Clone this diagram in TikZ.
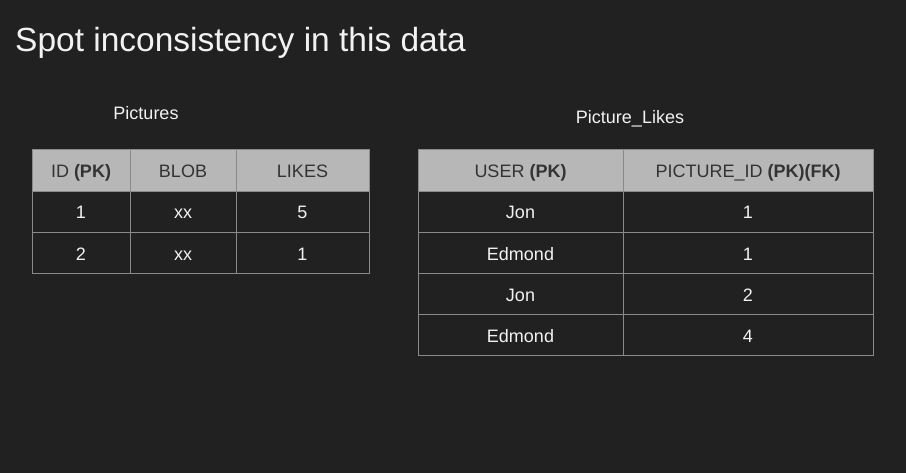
\documentclass[tikz,border=0pt]{standalone}
\usepackage{fontspec}
\setmainfont{Liberation Sans}
\usetikzlibrary{positioning}
\definecolor{slide}{HTML}{212121}
\definecolor{headfill}{HTML}{B7B7B7}
\definecolor{rule}{HTML}{8A8A8A}
\definecolor{headtext}{HTML}{333333}
\definecolor{celltext}{HTML}{F2F2F2}
\tikzstyle{cell}=[rectangle, draw=rule, line width=1pt, inner sep=0pt, outer sep=0pt,
        minimum height=41.2pt, text height=14.2pt, text depth=0pt,
        text=celltext, font=\fontsize{18}{20}\selectfont, anchor=north west]
\tikzstyle{head}=[cell, fill=headfill, text=headtext]
\tikzstyle{caption}=[text=celltext, font=\fontsize{18}{20}\selectfont]

\begin{document}
\begin{tikzpicture}[x=1pt, y=-1pt]
    \fill[slide] (0,0) rectangle (906,473);
    \useasboundingbox (0,0) rectangle (906,473);

    \node (Title) [anchor=base west, text=celltext, inner sep=0pt, font=\fontsize{33.5}{36}\selectfont] at (15,52)
        {Spot inconsistency in this data};

    % Pictures table
    \node (Pictures) [caption] at (146,113) {Pictures};

    \node (PicID) [head, minimum width=98pt] at (32,150) {ID \textbf{(PK)}};
    \node (PicBlob) [head, minimum width=106pt, right=0pt of PicID.north east, anchor=north west] {BLOB};
    \node (PicLikes) [head, minimum width=133pt, right=0pt of PicBlob.north east, anchor=north west] {LIKES};

    \node (PicID1) [cell, minimum width=98pt, below=0pt of PicID.south west, anchor=north west] {1};
    \node (PicBlob1) [cell, minimum width=106pt, below=0pt of PicBlob.south west, anchor=north west] {xx};
    \node (PicLikes1) [cell, minimum width=133pt, below=0pt of PicLikes.south west, anchor=north west] {5};

    \node (PicID2) [cell, minimum width=98pt, below=0pt of PicID1.south west, anchor=north west] {2};
    \node (PicBlob2) [cell, minimum width=106pt, below=0pt of PicBlob1.south west, anchor=north west] {xx};
    \node (PicLikes2) [cell, minimum width=133pt, below=0pt of PicLikes1.south west, anchor=north west] {1};

    % Picture_Likes table
    \node (Likes) [caption] at (630,119) {Picture\_Likes};

    \node (LikeUser) [head, minimum width=205pt] at (418,150) {USER \textbf{(PK)}};
    \node (LikePic) [head, minimum width=250pt, right=0pt of LikeUser.north east, anchor=north west]
        {PICTURE\_ID \textbf{(PK)(FK)}};

    \node (LikeUser1) [cell, minimum width=205pt, below=0pt of LikeUser.south west, anchor=north west] {Jon};
    \node (LikePic1) [cell, minimum width=250pt, below=0pt of LikePic.south west, anchor=north west] {1};

    \node (LikeUser2) [cell, minimum width=205pt, below=0pt of LikeUser1.south west, anchor=north west] {Edmond};
    \node (LikePic2) [cell, minimum width=250pt, below=0pt of LikePic1.south west, anchor=north west] {1};

    \node (LikeUser3) [cell, minimum width=205pt, below=0pt of LikeUser2.south west, anchor=north west] {Jon};
    \node (LikePic3) [cell, minimum width=250pt, below=0pt of LikePic2.south west, anchor=north west] {2};

    \node (LikeUser4) [cell, minimum width=205pt, below=0pt of LikeUser3.south west, anchor=north west] {Edmond};
    \node (LikePic4) [cell, minimum width=250pt, below=0pt of LikePic3.south west, anchor=north west] {4};

\end{tikzpicture}
\end{document}
